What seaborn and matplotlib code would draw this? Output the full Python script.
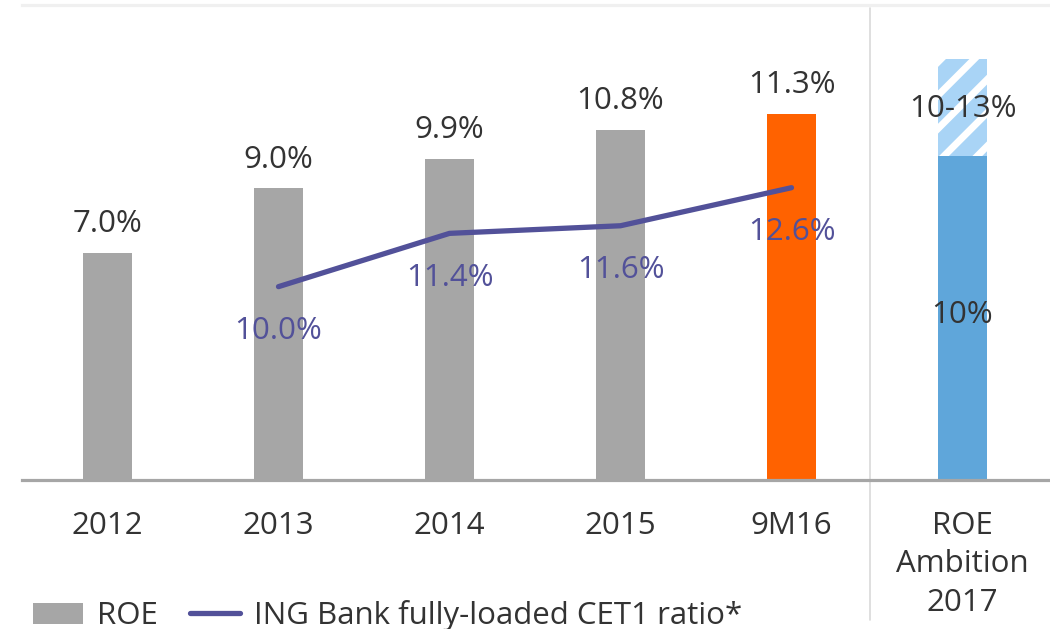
import numpy as np
import pandas as pd
import matplotlib
matplotlib.use('Agg')
import matplotlib.pyplot as plt
import seaborn as sns
from matplotlib.patches import Patch
from matplotlib.lines import Line2D

# ---- data ----
categories = ['2012', '2013', '2014', '2015', '9M16', 'ROE\nAmbition\n2017']
roe_values = [7.0, 9.0, 9.9, 10.8, 11.3, 10.0]
roe_labels = ['7.0%', '9.0%', '9.9%', '10.8%', '11.3%', '10%']
ambition_high = 13.0
ambition_label = '10-13%'

cet1_categories = ['2013', '2014', '2015', '9M16']
cet1_values = [10.0, 11.4, 11.6, 12.6]
cet1_labels = ['10.0%', '11.4%', '11.6%', '12.6%']

# colours
GREY = '#A6A6A6'
ORANGE = '#FF6200'
BLUE = '#5FA6DA'
LIGHT_BLUE = '#A9D4F6'
PURPLE = '#525199'
TEXT = '#333333'

sns.set_theme(style='white')
plt.rcParams['font.family'] = ['Open Sans', 'DejaVu Sans']
plt.rcParams['hatch.linewidth'] = 5.0
plt.rcParams['hatch.color'] = 'white'
FS = 22.5

fig = plt.figure(figsize=(10.5, 6.29), dpi=100)
ax = fig.add_axes([22 / 1050, (629 - 480) / 629, 1026 / 1050, 475 / 629])

df = pd.DataFrame({'cat': categories, 'roe': roe_values})
bar_colors = [GREY, GREY, GREY, GREY, ORANGE, BLUE]

# hatched upper range of ambition, drawn first then covered by the solid part
amb = pd.DataFrame({'cat': categories,
                    'v': [0, 0, 0, 0, 0, ambition_high]})
sns.barplot(data=amb, x='cat', y='v', ax=ax, width=0.29,
            color=LIGHT_BLUE, edgecolor='white', linewidth=0, hatch='/',
            saturation=1)
sns.barplot(data=df, x='cat', y='roe', hue='cat', palette=bar_colors,
            legend=False, ax=ax, width=0.29, linewidth=0, saturation=1)

ax.set_xlim(-0.5, 5.5)
ax.set_ylim(0, 14.66)
ax.set_xlabel('')
ax.set_ylabel('')
ax.set_yticks([])
ax.tick_params(axis='x', length=0, pad=22, labelsize=FS, labelcolor=TEXT)
for t in ax.get_xticklabels():
    t.set_verticalalignment('top')
    t.set_linespacing(1.38)

for s in ['left', 'right']:
    ax.spines[s].set_visible(False)
ax.spines['bottom'].set_color(GREY)
ax.spines['bottom'].set_linewidth(2.3)
ax.spines['top'].set_color('#F0F0F0')
ax.spines['top'].set_linewidth(2.3)

# value labels above bars
for i, (v, lab) in enumerate(zip(roe_values, roe_labels)):
    if i == len(roe_values) - 1:
        ax.text(i, v / 2 + 0.1, lab, ha='center', va='center',
                fontsize=FS, color=TEXT)
    else:
        ax.annotate(lab, (i, v), xytext=(0, 10), textcoords='offset points',
                    ha='center', va='bottom', fontsize=FS, color=TEXT)
ax.text(len(categories) - 1, 11.45, ambition_label, ha='center', va='center',
        fontsize=FS, color=TEXT)

# separator
ax.axvline(4.46, ymin=-0.295, ymax=0.994, color='#D9D9D9', lw=1.2,
           clip_on=False)

# CET1 line on secondary axis
ax2 = ax.twinx()
xpos = [categories.index(c) for c in cet1_categories]
sns.lineplot(x=xpos, y=cet1_values, ax=ax2, color=PURPLE, lw=3.8)
ax2.set_ylim(4.92, 17.4)
ax2.set_yticks([])
ax2.set_ylabel('')
for s in ax2.spines.values():
    s.set_visible(False)
for x, v, lab in zip(xpos, cet1_values, cet1_labels):
    ax2.annotate(lab, (x, v), xytext=(0, -32), textcoords='offset points',
                 ha='center', va='center', fontsize=FS, color=PURPLE)

# legend
handles = [Patch(facecolor=GREY, edgecolor='none'),
           Line2D([0], [0], color=PURPLE, lw=3.8)]
fig.legend(handles, ['ROE', 'ING Bank fully-loaded CET1 ratio*'],
           loc='lower left', bbox_to_anchor=(0.005, -0.048), ncol=2,
           frameon=False, fontsize=FS, labelcolor=TEXT,
           handlelength=1.6, handleheight=0.65, handletextpad=0.45,
           columnspacing=1.0)

fig.savefig('out.png', dpi=100)
